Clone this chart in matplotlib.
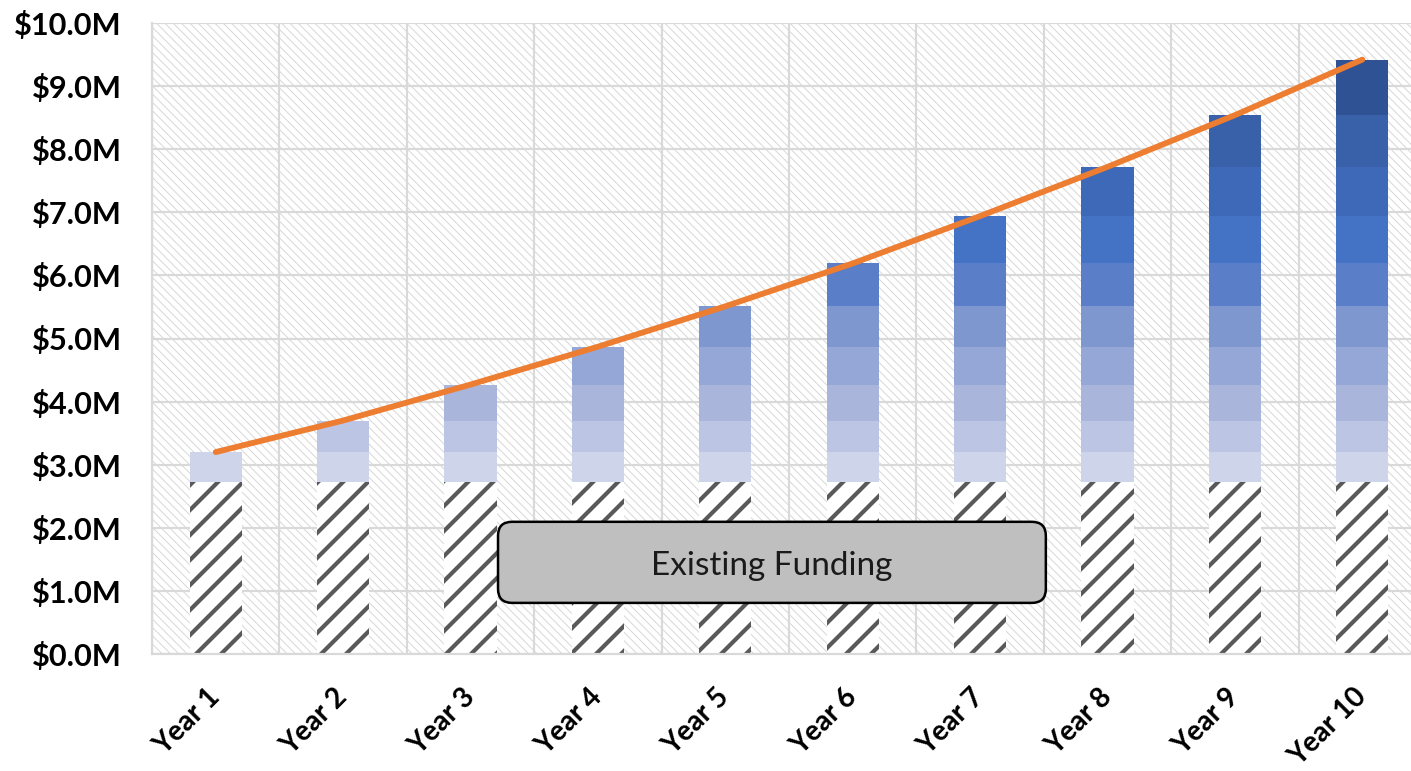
import numpy as np
import matplotlib.pyplot as plt
from matplotlib.patches import Rectangle, FancyBboxPatch

years = ["Year 1", "Year 2", "Year 3", "Year 4", "Year 5",
         "Year 6", "Year 7", "Year 8", "Year 9", "Year 10"]
existing = 2.72  # $M, existing funding base
totals = [3.20, 3.70, 4.27, 4.87, 5.51, 6.19, 6.94, 7.72, 8.54, 9.42]
layer_colors = ["#CED4EA", "#BCC5E4", "#A9B5DB", "#95A7D6", "#7F97CF",
                "#5A7EC7", "#4472C4", "#3D69B8", "#3861AA", "#2F5294"]

plt.rcParams['font.family'] = ['Lato', 'DejaVu Sans']

# dpi 75 so the hatch spacing comes out close to the original
DPI = 75
fig = plt.figure(figsize=(1411 / DPI, 771 / DPI), dpi=DPI)
ax = fig.add_axes([152 / 1411, 117 / 771, 1274 / 1411, 631 / 771])

x = np.arange(len(years))
w = 0.41

# plot area hatch
bg = Rectangle((0, 0), 1, 1, transform=ax.transAxes, facecolor="white",
               edgecolor="#D6D6D6", hatch="\\\\\\", linewidth=0, zorder=0.1)
bg.set_hatch_linewidth(0.9)
ax.add_patch(bg)

# existing funding
ex = ax.bar(x, [existing] * len(x), w, color="white", edgecolor="#595959",
            hatch="/", linewidth=0, zorder=2)
for p in ex:
    p.set_hatch_linewidth(4.0)

# yearly increments stacked on top
prev = existing
for i in range(len(totals)):
    xs = x[i:]
    ax.bar(xs, [totals[i] - prev] * len(xs), w, bottom=prev,
           color=layer_colors[i], linewidth=0, zorder=2)
    prev = totals[i]

ax.plot(x, totals, color="#ED7D31", linewidth=5.6, solid_capstyle="round", zorder=3)

# label box
box = FancyBboxPatch((2.216, 0.81), 4.30, 1.285,
                     boxstyle="round,pad=0,rounding_size=0.11",
                     mutation_aspect=2.02, facecolor="#BFBFBF",
                     edgecolor="black", linewidth=2.4, zorder=4)
ax.add_patch(box)
ax.text(4.366, 1.40, "Existing Funding", ha="center", va="center",
        fontsize=32, color="#1A1A1A", zorder=5)

ax.set_xlim(-0.5, 9.5)
ax.set_ylim(0, 10)
ax.set_yticks(np.arange(0, 11, 1))
ax.set_yticklabels([f"${v:.1f}M" for v in range(11)], fontsize=29.5, fontweight="bold")
ax.set_xticks(x)
ax.set_xticklabels(years, fontsize=27, fontweight="bold", rotation=45,
                   ha="right", va="center", rotation_mode="anchor")
ax.set_xticks(np.arange(-0.5, 10, 1), minor=True)
ax.tick_params(axis="both", which="both", length=0)
ax.tick_params(axis="y", pad=29)
ax.tick_params(axis="x", pad=37)

ax.set_axisbelow(True)
ax.grid(axis="y", which="major", color="#D9D9D9", linewidth=2.1)
ax.grid(axis="x", which="minor", color="#D9D9D9", linewidth=2.1)
for s in ["top", "right"]:
    ax.spines[s].set_visible(False)
for s in ["left", "bottom"]:
    ax.spines[s].set_color("#D9D9D9")
    ax.spines[s].set_linewidth(2.1)

fig.savefig("out.png", dpi=DPI)
